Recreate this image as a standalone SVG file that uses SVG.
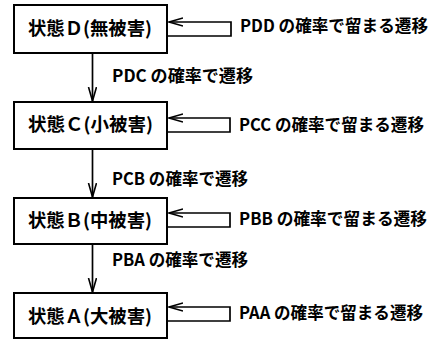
<svg xmlns="http://www.w3.org/2000/svg" width="439" height="344" viewBox="0 0 439 344">
<style>
.box{fill:#fff;stroke:#000;stroke-width:2}
.ln{fill:none;stroke:#000;stroke-width:1.7}
text{font-family:"Noto Sans CJK JP","Noto Sans CJK SC",sans-serif;font-size:18px;font-weight:700;fill:#000}
.lb{font-size:17px}
</style>
<defs>
<marker id="ah" markerUnits="userSpaceOnUse" markerWidth="16" markerHeight="10" refX="14" refY="4.5" orient="auto" viewBox="0 0 16 10">
<path d="M0,0.5 L14,4.5 L0,8.5" fill="none" stroke="#000" stroke-width="1.6"/>
</marker>
</defs>
<rect width="439" height="344" fill="#fff"/>
<g id="nodeD"><rect class="box" x="14" y="5" width="153" height="48"/><text x="28" y="35" textLength="124" lengthAdjust="spacingAndGlyphs">状態Ｄ(無被害)</text></g>
<g id="nodeC"><rect class="box" x="14" y="102" width="153" height="47"/><text x="28" y="131" textLength="125" lengthAdjust="spacingAndGlyphs">状態Ｃ(小被害)</text></g>
<g id="nodeB"><rect class="box" x="14" y="198" width="153" height="46"/><text x="28" y="227" textLength="124" lengthAdjust="spacingAndGlyphs">状態Ｂ(中被害)</text></g>
<g id="nodeA"><rect class="box" x="14" y="293" width="153" height="45"/><text x="28" y="323" textLength="124" lengthAdjust="spacingAndGlyphs">状態Ａ(大被害)</text></g>
<g id="connectors">
<path class="ln" d="M92.5,53 V101" marker-end="url(#ah)"/>
<path class="ln" d="M92.5,149 V197" marker-end="url(#ah)"/>
<path class="ln" d="M92.5,244 V292" marker-end="url(#ah)"/>
<path class="ln" d="M167,36 H231 V22 H169" marker-end="url(#ah)"/>
<path class="ln" d="M167,132 H230 V118 H169" marker-end="url(#ah)"/>
<path class="ln" d="M167,227 H230 V213 H169" marker-end="url(#ah)"/>
<path class="ln" d="M167,321 H230 V307 H169" marker-end="url(#ah)"/>
</g>
<g id="labels">
<text class="lb" x="240" y="32" textLength="188" lengthAdjust="spacingAndGlyphs">PDD の確率で留まる遷移</text>
<text class="lb" x="239" y="130.5" textLength="185" lengthAdjust="spacingAndGlyphs">PCC の確率で留まる遷移</text>
<text class="lb" x="239" y="225" textLength="188" lengthAdjust="spacingAndGlyphs">PBB の確率で留まる遷移</text>
<text class="lb" x="239" y="319" textLength="184" lengthAdjust="spacingAndGlyphs">PAA の確率で留まる遷移</text>
<text class="lb" x="112" y="82" textLength="141" lengthAdjust="spacingAndGlyphs">PDC の確率で遷移</text>
<text class="lb" x="112" y="185" textLength="136" lengthAdjust="spacingAndGlyphs">PCB の確率で遷移</text>
<text class="lb" x="112" y="266" textLength="136" lengthAdjust="spacingAndGlyphs">PBA の確率で遷移</text>
</g>
</svg>
